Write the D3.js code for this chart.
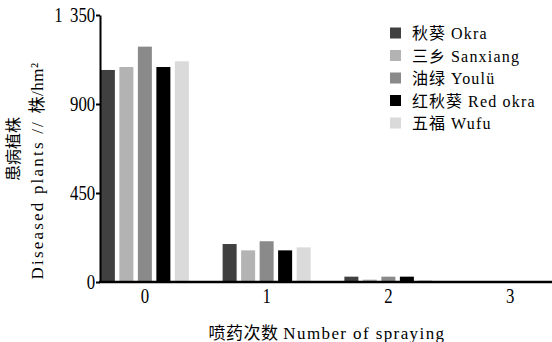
<!DOCTYPE html>
<html>
<head>
<meta charset="utf-8">
<script src="https://cdn.jsdelivr.net/npm/d3@7"></script>
<style>
  html, body { margin: 0; padding: 0; background: #fff; }
  svg { display: block; }
  .serif { font-family: "Liberation Serif", "Noto Sans CJK SC", serif; }
</style>
</head>
<body>
<div id="chart"></div>
<script>
// ---- data ----
const categories = ["0", "1", "2", "3"];
const seriesKeys = ["okra", "sanxiang", "youlu", "redOkra", "wufu"];
const seriesCn = ["秋葵", "三乡", "油绿", "红秋葵", "五福"];
const seriesEn = ["Okra", "Sanxiang", "Youlü", "Red okra", "Wufu"];
const okra     = [1072, 192, 27, 0];
const sanxiang = [1087, 160, 12, 0];
const youlu    = [1190, 206, 27, 0];
const redOkra  = [1087, 160, 27, 0];
const wufu     = [1116, 175, 10, 0];
const yTicks = [0, 450, 900, 1350];
const yTickLabels = ["0", "450", "900", "1 350"];
const colors = ["#404040", "#b3b3b3", "#8a8a8a", "#000000", "#dadada"];

const seriesValues = [okra, sanxiang, youlu, redOkra, wufu];
const table = categories.map((c, i) => {
  const row = { category: c };
  seriesKeys.forEach((k, j) => row[k] = seriesValues[j][i]);
  return row;
});

// ---- layout ----
const W = 552, H = 342;
const svg = d3.select("#chart").append("svg").attr("width", W).attr("height", H);

const y = d3.scaleLinear().domain([0, 1350]).range([282, 15]);
const x0 = d3.scaleBand().domain(categories).range([84, 571]);
const x1 = d3.scaleBand().domain(seriesKeys).range([0, 88]).paddingInner(0.243);
const color = d3.scaleOrdinal().domain(seriesKeys).range(colors);
const axisX = 100, axisRight = 552;

// bars
svg.append("g").selectAll("g")
  .data(table).join("g")
  .attr("transform", d => `translate(${x0(d.category) + x0.bandwidth() / 2 - 44},0)`)
  .selectAll("rect")
  .data(d => seriesKeys.map(k => ({ key: k, value: d[k] })))
  .join("rect")
  .attr("x", d => x1(d.key))
  .attr("width", x1.bandwidth())
  .attr("y", d => y(d.value))
  .attr("height", d => y(0) - y(d.value))
  .attr("fill", d => color(d.key));

// y axis
const yAxis = svg.append("g")
  .attr("transform", `translate(${axisX},0)`)
  .call(d3.axisLeft(y).tickValues(yTicks).tickFormat((d, i) => yTickLabels[i]).tickSize(4).tickSizeOuter(0).tickPadding(2));
yAxis.select(".domain").attr("stroke", "#000").attr("stroke-width", 2);
yAxis.selectAll(".tick line").attr("stroke", "#000").attr("stroke-width", 2);
yAxis.selectAll(".tick text").attr("class", "serif").attr("font-size", 21).attr("fill", "#000")
  .attr("word-spacing", 4)
  .attr("transform", "scale(0.8,1)");

// x axis
const xAxis = svg.append("g")
  .attr("transform", `translate(0,${y(0)})`)
  .call(d3.axisBottom(x0).tickSize(0).tickPadding(6));
xAxis.select(".domain").remove();
xAxis.selectAll(".tick text").attr("class", "serif").attr("font-size", 21).attr("fill", "#000")
  .attr("transform", "scale(0.8,1)");
svg.append("line")
  .attr("x1", axisX - 1).attr("x2", axisRight)
  .attr("y1", y(0)).attr("y2", y(0))
  .attr("stroke", "#000").attr("stroke-width", 2.5);

// x title
const xt = svg.append("text").attr("class", "serif")
  .attr("x", 327).attr("y", 339).attr("text-anchor", "middle").attr("font-size", 17);
xt.append("tspan").attr("letter-spacing", 0.5).text("喷药次数 ");
xt.append("tspan").attr("letter-spacing", 1.4).text("Number of spraying");

// y title
const yt = svg.append("g").attr("transform", "rotate(-90)");
yt.append("text").attr("class", "serif")
  .attr("x", -149).attr("y", 19).attr("text-anchor", "middle").attr("font-size", 16)
  .text("患病植株");
const yt2 = yt.append("text").attr("class", "serif")
  .attr("x", -171).attr("y", 43).attr("text-anchor", "middle").attr("font-size", 17);
yt2.append("tspan").attr("letter-spacing", 2.2).text("Diseased plants // ");
yt2.append("tspan").attr("letter-spacing", 0.5).text("株/hm²");

// legend
const lg = svg.append("g");
seriesKeys.forEach((k, i) => {
  const g = lg.append("g").attr("transform", `translate(390,${33 + i * 22.5})`);
  g.append("rect").attr("x", 0).attr("y", -5.5).attr("width", 11).attr("height", 11).attr("fill", color(k));
  const t = g.append("text").attr("class", "serif").attr("x", 22).attr("y", 6).attr("font-size", 16);
  t.append("tspan").attr("letter-spacing", 1).text(seriesCn[i] + " ");
  t.append("tspan").attr("letter-spacing", 1.2).text(seriesEn[i]);
});
</script>
</body>
</html>
